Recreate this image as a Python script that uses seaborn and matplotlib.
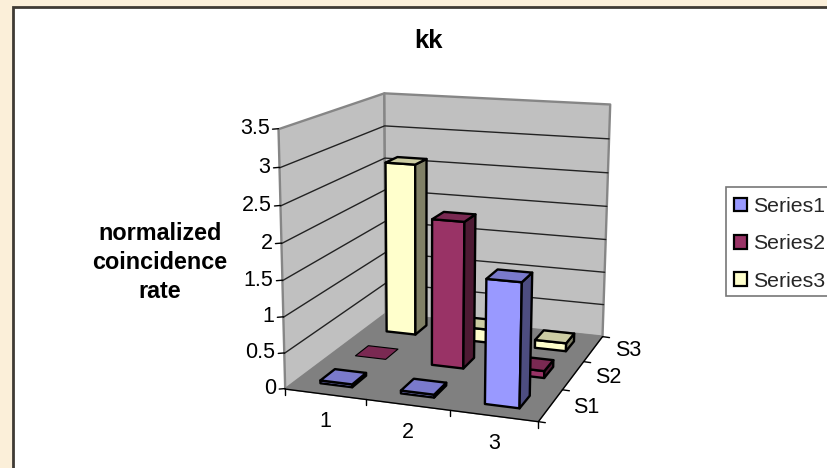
import numpy as np
import matplotlib
matplotlib.use("Agg")
import matplotlib.pyplot as plt
from matplotlib.patches import Polygon, Patch, Rectangle
import seaborn as sns

# Chart values
categories = ["1", "2", "3"]
rows = ["S1", "S2", "S3"]
series_names = ["Series1", "Series2", "Series3"]
series1 = [0.04, 0.04, 1.68]
series2 = [0.0, 2.1, 0.1]
series3 = [2.6, 0.2, 0.12]
z_ticks = [0, 0.5, 1, 1.5, 2, 2.5, 3, 3.5]
z_tick_labels = ["0", "0.5", "1", "1.5", "2", "2.5", "3", "3.5"]

sns.set_theme(style="white")
plt.rcParams["font.family"] = ["Liberation Sans", "DejaVu Sans"]
palette = sns.color_palette(["#9999FF", "#993366", "#FFFFCC"])

W, H = 827, 468
fig = plt.figure(figsize=(W / 100, H / 100), dpi=100, facecolor="#FBEFD9")
ax = fig.add_axes([0, 0, 1, 1])
ax.set_xlim(0, W)
ax.set_ylim(H, 0)
ax.axis("off")

# Camera calibration: where the plot box corners land on the canvas
box_world = np.array([[0, 0, 0], [3, 0, 0], [3, 3, 0], [0, 3, 0],
                      [0, 0, 3.5], [0, 3, 3.5], [3, 3, 3.5]], float)
box_canvas = np.array([[286, 388], [538, 423], [603, 335], [385, 315],
                       [278, 129], [385, 93], [610, 105]], float)
A, b = [], []
for (X, Y, Z), (u, v) in zip(box_world, box_canvas):
    A.append([X, Y, Z, 1, 0, 0, 0, 0, -u * X, -u * Y, -u * Z])
    A.append([0, 0, 0, 0, X, Y, Z, 1, -v * X, -v * Y, -v * Z])
    b += [u, v]
A = np.array(A)
b = np.array(b)
sol = np.linalg.lstsq(A, b, rcond=None)[0]
P = np.append(sol, 1).reshape(3, 4)


def proj(x, y, z):
    p = P @ np.array([x, y, z, 1.0])
    return p[0] / p[2], p[1] / p[2]


def face(points, color, ec="black", lw=1.7, zorder=2):
    ax.add_patch(Polygon([proj(*q) for q in points], closed=True, fc=color,
                         ec=ec, lw=lw, joinstyle="round", zorder=zorder))


def shade(color, k):
    return tuple(c * k for c in color)


# Chart area panel and border
ax.add_patch(Rectangle((13, 6.5), W, H, fc="white", ec="#3F3A34", lw=2, zorder=0))

# Walls and floor
wall_edge = "#868686"
face([(0, 0, 0), (0, 3, 0), (0, 3, 3.5), (0, 0, 3.5)], "#C0C0C0", wall_edge, 1.7, 1)
face([(0, 3, 0), (3, 3, 0), (3, 3, 3.5), (0, 3, 3.5)], "#C0C0C0", wall_edge, 1.7, 1)
for z in z_ticks[1:-1]:
    ax.plot(*zip(proj(0, 0, z), proj(0, 3, z), proj(3, 3, z)), color="#222222",
            lw=1, zorder=1.2)
face([(0, 0, 0), (3, 0, 0), (3, 3, 0), (0, 3, 0)], "#808080", "#808080", 1, 1.3)

# Axis lines, ticks and tick labels
ax.plot(*zip(proj(0, 0, 0), proj(3, 0, 0), proj(3, 3, 0)), color="black", lw=1, zorder=1.4)
for z, label in zip(z_ticks, z_tick_labels):
    x0, y0 = proj(0, 0, z)
    ax.plot([x0 - 6, x0], [y0, y0 - 0.5], color="black", lw=1, zorder=1.4)
    ax.text(x0 - 9, y0 - 0.5, label, ha="right", va="center", fontsize=15.5, color="black")
for i in range(4):
    x0, y0 = proj(i, 0, 0)
    ax.plot([x0, x0], [y0, y0 + 6], color="black", lw=1, zorder=1.4)
for i, label in enumerate(categories):
    x0, y0 = proj(i + 0.5, 0, 0)
    ax.text(x0 + 0.5, y0 + 27.5, label, ha="center", va="center", fontsize=15.5, color="black")
for j in range(4):
    x0, y0 = proj(3, j, 0)
    ax.plot([x0, x0 + 7], [y0, y0 + 1], color="black", lw=1, zorder=1.4)
for j, label in enumerate(rows):
    x0, y0 = proj(3, j + 0.5, 0)
    ax.text(x0 + 22, y0 + 2, label, ha="left", va="center", fontsize=15.5, color="black")

# Bars, painted from the back row forward
bar = 0.4
order = 3
for j, values in reversed(list(enumerate([series1, series2, series3]))):
    base = palette[j]
    for i, v in enumerate(values):
        x0, x1 = i + 0.5 - bar / 2, i + 0.5 + bar / 2
        y0, y1 = j + 0.5 - bar / 2, j + 0.5 + bar / 2
        order += 1
        if v > 0:
            face([(x0, y0, 0), (x1, y0, 0), (x1, y0, v), (x0, y0, v)], base, zorder=order)
            face([(x1, y0, 0), (x1, y1, 0), (x1, y1, v), (x1, y0, v)], shade(base, 0.5), zorder=order)
        face([(x0, y0, v), (x1, y0, v), (x1, y1, v), (x0, y1, v)], shade(base, 0.8),
             lw=1.7 if v > 0 else 0.8, zorder=order)

# Title and axis title
ax.text(429, 41.5, "kk", ha="center", va="center", fontsize=18.5, fontweight="bold", color="black")
ax.text(160, 262.5, "normalized\ncoincidence\nrate", ha="center", va="center", fontsize=16.8,
        fontweight="bold", color="black", linespacing=1.31)

# Legend box with its entries placed inside
ax.add_patch(Rectangle((726, 187), 200, 109, fc="white", ec="#777777", lw=1.2, zorder=49))
handles = [Patch(fc=c, ec="black", lw=1.6) for c in palette]
leg = ax.legend(handles, series_names, loc="upper left",
                bbox_to_anchor=(734 / W, 1 - 197 / H), bbox_transform=fig.transFigure,
                fontsize=15.3, frameon=False, handlelength=0.6, handleheight=0.6,
                handletextpad=0.32, labelspacing=0.86, borderpad=0, borderaxespad=0)
leg.set_zorder(50)

fig.savefig("out.png", dpi=100, facecolor=fig.get_facecolor())
